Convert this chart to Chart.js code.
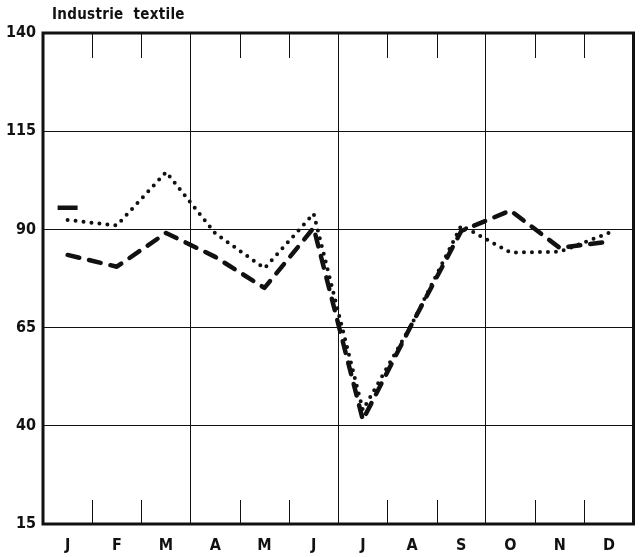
<!DOCTYPE html>
<html>
<head>
<meta charset="utf-8">
<script src="https://cdn.jsdelivr.net/npm/chart.js@4/dist/chart.umd.min.js"></script>
<style>
  html, body { margin: 0; padding: 0; background: #fff; overflow: hidden; }
  #wrap { position: relative; width: 644px; height: 557px; overflow: hidden; }
  #title {
    position: absolute; left: 52px; top: 5px;
    font: bold 15px "DejaVu Sans Condensed", "Liberation Sans Narrow", sans-serif;
    letter-spacing: 0.3px; word-spacing: 5px; color: #111;
  }
  canvas { display: block; }
</style>
</head>
<body>
<div id="wrap">
  <div id="title">Industrie textile</div>
  <canvas id="chart" width="648" height="557"></canvas>
</div>
<script>
  // months along the bottom
  const months = ['J', 'F', 'M', 'A', 'M', 'J', 'J', 'A', 'S', 'O', 'N', 'D'];
  const yTicks = [15, 40, 65, 90, 115, 140];

  // series
  const dotted = [92.4, 91, 104.6, 89, 80.1, 94, 44, 66, 91, 84.1, 84.3, 89.1];
  const dashed = [83.5, 80.5, 89.1, 83, 75.1, 90.4, 41.5, 66, 89.6, 94.8, 85.3, 86.9];
  // short stroke on January (previous-year marker)
  const marker = [95.5, null, null, null, null, null, null, null, null, null, null, null];

  const INK = '#111';
  const FONT = '"DejaVu Sans Condensed", "Liberation Sans Narrow", sans-serif';

  // frame + short month ticks hanging from top and rising from bottom
  const framePlugin = {
    id: 'frame',
    beforeDatasetsDraw(chart) {
      const { ctx, chartArea: a, scales: { x } } = chart;
      ctx.save();
      ctx.strokeStyle = INK;
      ctx.lineWidth = 1;
      ctx.beginPath();
      for (let i = 1; i < months.length; i++) {
        if (i % 3 === 0) continue;
        const px = Math.round((x.getPixelForValue(i - 1) + x.getPixelForValue(i)) / 2) + 0.5;
        ctx.moveTo(px, a.top);
        ctx.lineTo(px, a.top + 25);
        ctx.moveTo(px, a.bottom - 24);
        ctx.lineTo(px, a.bottom);
      }
      ctx.stroke();
      ctx.lineWidth = 3;
      ctx.strokeRect(a.left, a.top, a.right - a.left, a.bottom - a.top);
      ctx.restore();
    }
  };

  new Chart(document.getElementById('chart').getContext('2d'), {
    type: 'line',
    data: {
      labels: months,
      datasets: [
        { label: 'dotted', data: dotted, borderColor: INK, borderWidth: 4,
          borderDash: [0, 8], borderCapStyle: 'round', borderJoinStyle: 'round',
          pointRadius: 0, tension: 0, fill: false },
        { label: 'dashed', data: dashed, borderColor: INK, borderWidth: 4.5,
          borderDash: [12, 10], borderCapStyle: 'round', borderJoinStyle: 'round',
          pointRadius: 0, tension: 0, fill: false },
        { label: 'marker', data: marker, showLine: false, borderColor: INK,
          pointStyle: 'line', pointRadius: 10, pointBorderWidth: 4.5,
          pointBorderColor: INK, pointHoverRadius: 10 },
      ],
    },
    options: {
      responsive: false, animation: false,
      layout: { padding: { top: 33, right: 0, left: 0, bottom: 0 } },
      plugins: { legend: { display: false }, tooltip: { enabled: false } },
      scales: {
        x: {
          offset: true,
          grid: {
            offset: true, drawTicks: false, lineWidth: 1,
            color: (c) => (c.index === 3 || c.index === 6 || c.index === 9) ? INK : 'rgba(0,0,0,0)',
          },
          border: { display: false },
          ticks: { color: INK, padding: 12, maxRotation: 0, autoSkip: false,
                   font: { family: FONT, size: 16, weight: 'bold' } },
          afterFit: (s) => { s.height = 33; },
        },
        y: {
          min: yTicks[0], max: yTicks[yTicks.length - 1],
          afterBuildTicks: (s) => { s.ticks = yTicks.map((v) => ({ value: v })); },
          grid: {
            drawTicks: false, lineWidth: 1,
            color: (c) => (c.tick && (c.tick.value === 15 || c.tick.value === 140)) ? 'rgba(0,0,0,0)' : INK,
          },
          border: { display: false },
          ticks: { color: INK, padding: 7,
                   font: { family: FONT, size: 16, weight: 'bold' } },
          afterFit: (s) => { s.width = 43; },
        },
      },
    },
    plugins: [framePlugin],
  });
</script>
</body>
</html>
